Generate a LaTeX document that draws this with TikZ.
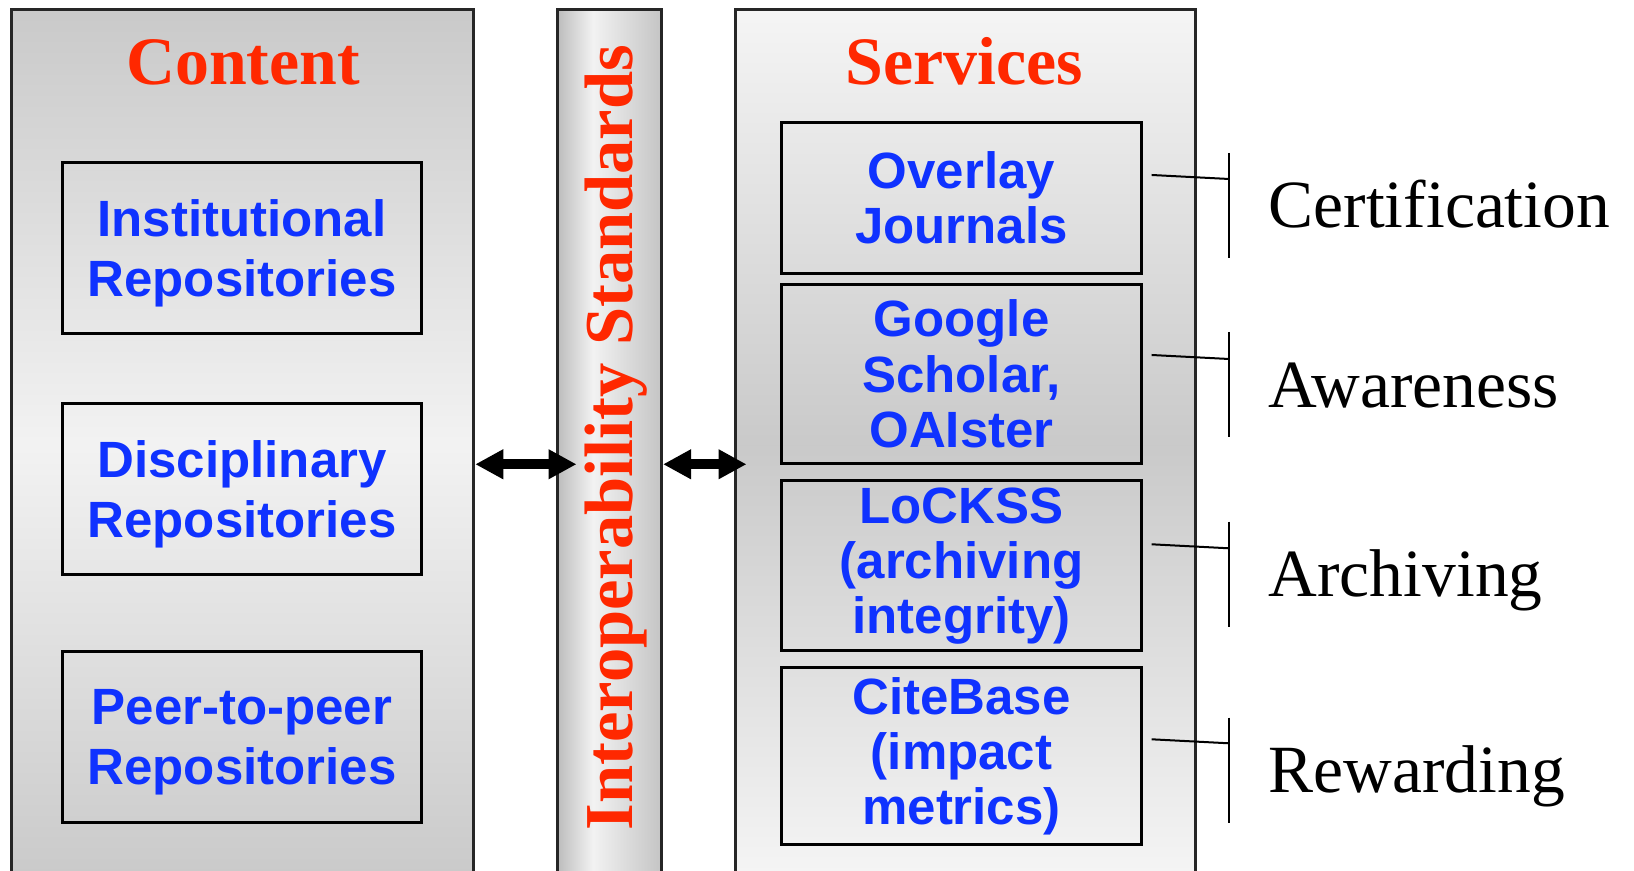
\documentclass[tikz,border=0pt]{standalone}
\usepackage{fontspec}
\setmainfont{Liberation Serif}
\setsansfont{Liberation Sans}
\usepackage{tikz}
\usetikzlibrary{arrows.meta}

\definecolor{titlered}{RGB}{255,40,0}
\definecolor{repoblue}{RGB}{15,50,255}
% shading of the standards bar, light part left of the middle
\pgfdeclarehorizontalshading{barshade}{100bp}{color(0bp)=(black!26); color(25bp)=(black!26); color(42bp)=(black!5); color(75bp)=(black!23); color(100bp)=(black!23)}

\begin{document}
\begin{tikzpicture}[x=0.01cm, y=-0.01cm,
		panel/.style={draw=black!85, line width=0.03cm, anchor=north west, minimum height=8.7cm},
		paneltitle/.style={text=titlered, anchor=base, font=\bfseries\fontsize{19.3}{22}\selectfont},
		bluebox/.style={draw=black, line width=0.03cm, align=center, text=repoblue, minimum width=3.59cm, inner sep=0pt},
		repo/.style={bluebox, text depth=0pt, font=\sffamily\bfseries\fontsize{14.5}{17.1}\selectfont},
		serv/.style={bluebox, font=\sffamily\bfseries\fontsize{14.5}{15.65}\selectfont},
		role/.style={anchor=base west, inner sep=0pt, font=\fontsize{19.2}{22}\selectfont},
		brk/.style={line width=0.02cm},
		dbl/.style={{Triangle[length=0.28cm,width=0.28cm]}-{Triangle[length=0.28cm,width=0.28cm]}, line width=0.1cm}]
			\useasboundingbox (0,0) rectangle (1634,870);
			\clip (0,0) rectangle (1634,870);

			% three columns
			\node[panel, minimum width=4.62cm, top color=black!21, bottom color=black!21, middle color=black!5] (content) at (10,8) {};
			\node[panel, minimum width=1.04cm, shading=barshade] (bar) at (556,8) {};
			\node[panel, minimum width=4.60cm, top color=black!4, bottom color=black!4, middle color=black!21] (services) at (734,8) {};

			\node[paneltitle] (ctitle) at (243,85) {Content};
			\node[paneltitle] (stitle) at (964,85) {Services};
			\node[paneltitle, rotate=90, font=\bfseries\fontsize{19.5}{22}\selectfont] (std) at (632,437.5) {Interoperability Standards};

			% content side
			\node[repo, minimum height=1.71cm] (inst) at (242,247.8) {Institutional\\Repositories};
			\node[repo, minimum height=1.71cm] (disc) at (242,489) {Disciplinary\\Repositories};
			\node[repo, minimum height=1.71cm] (peer) at (242,737) {Peer-to-peer\\Repositories};

			% services side
			\node[serv, minimum height=1.51cm] (ovl) at (961.5,197.8) {Overlay\\Journals};
			\node[serv, minimum height=1.79cm] (ggl) at (961.5,373.8) {Google\\Scholar,\\OAIster};
			\node[serv, minimum height=1.70cm] (lck) at (961.5,565.8) {LoCKSS\\(archiving\\integrity)};
			\node[serv, minimum height=1.76cm] (cit) at (961.5,756) {CiteBase\\(impact\\metrics)};

			% functions
			\node[role] (cert) at (1268,228) {Certification};
			\node[role] (awar) at (1268,407) {Awareness};
			\node[role] (arch) at (1268,596.7) {Archiving};
			\node[role] (rewa) at (1268,792.7) {Rewarding};

			\draw[brk] ([xshift=-0.394cm,yshift=0.75cm]cert.base west) -- ([xshift=-0.394cm,yshift=-0.30cm]cert.base west);
			\draw[brk] ([xshift=-0.394cm,yshift=0.75cm]awar.base west) -- ([xshift=-0.394cm,yshift=-0.30cm]awar.base west);
			\draw[brk] ([xshift=-0.394cm,yshift=0.75cm]arch.base west) -- ([xshift=-0.394cm,yshift=-0.30cm]arch.base west);
			\draw[brk] ([xshift=-0.394cm,yshift=0.75cm]rewa.base west) -- ([xshift=-0.394cm,yshift=-0.30cm]rewa.base west);

			\draw[brk] ([xshift=0.09cm,yshift=0.228cm]ovl.east) -- ([xshift=-0.394cm,yshift=0.49cm]cert.base west); % ovl - cert
			\draw[brk] ([xshift=0.09cm,yshift=0.188cm]ggl.east) -- ([xshift=-0.394cm,yshift=0.48cm]awar.base west); % ggl - awar
			\draw[brk] ([xshift=0.09cm,yshift=0.215cm]lck.east) -- ([xshift=-0.394cm,yshift=0.484cm]arch.base west); % lck - arch
			\draw[brk] ([xshift=0.09cm,yshift=0.167cm]cit.east) -- ([xshift=-0.394cm,yshift=0.494cm]rewa.base west); % cit - rewa

			% arrows through the standards
			\draw[dbl] ([yshift=-0.195cm]content.east) -- ([xshift=0.205cm,yshift=-0.195cm]bar.west);
			\draw[dbl] ([yshift=-0.195cm]bar.east) -- ([xshift=0.125cm,yshift=-0.195cm]services.west);
		\end{tikzpicture}
\end{document}
